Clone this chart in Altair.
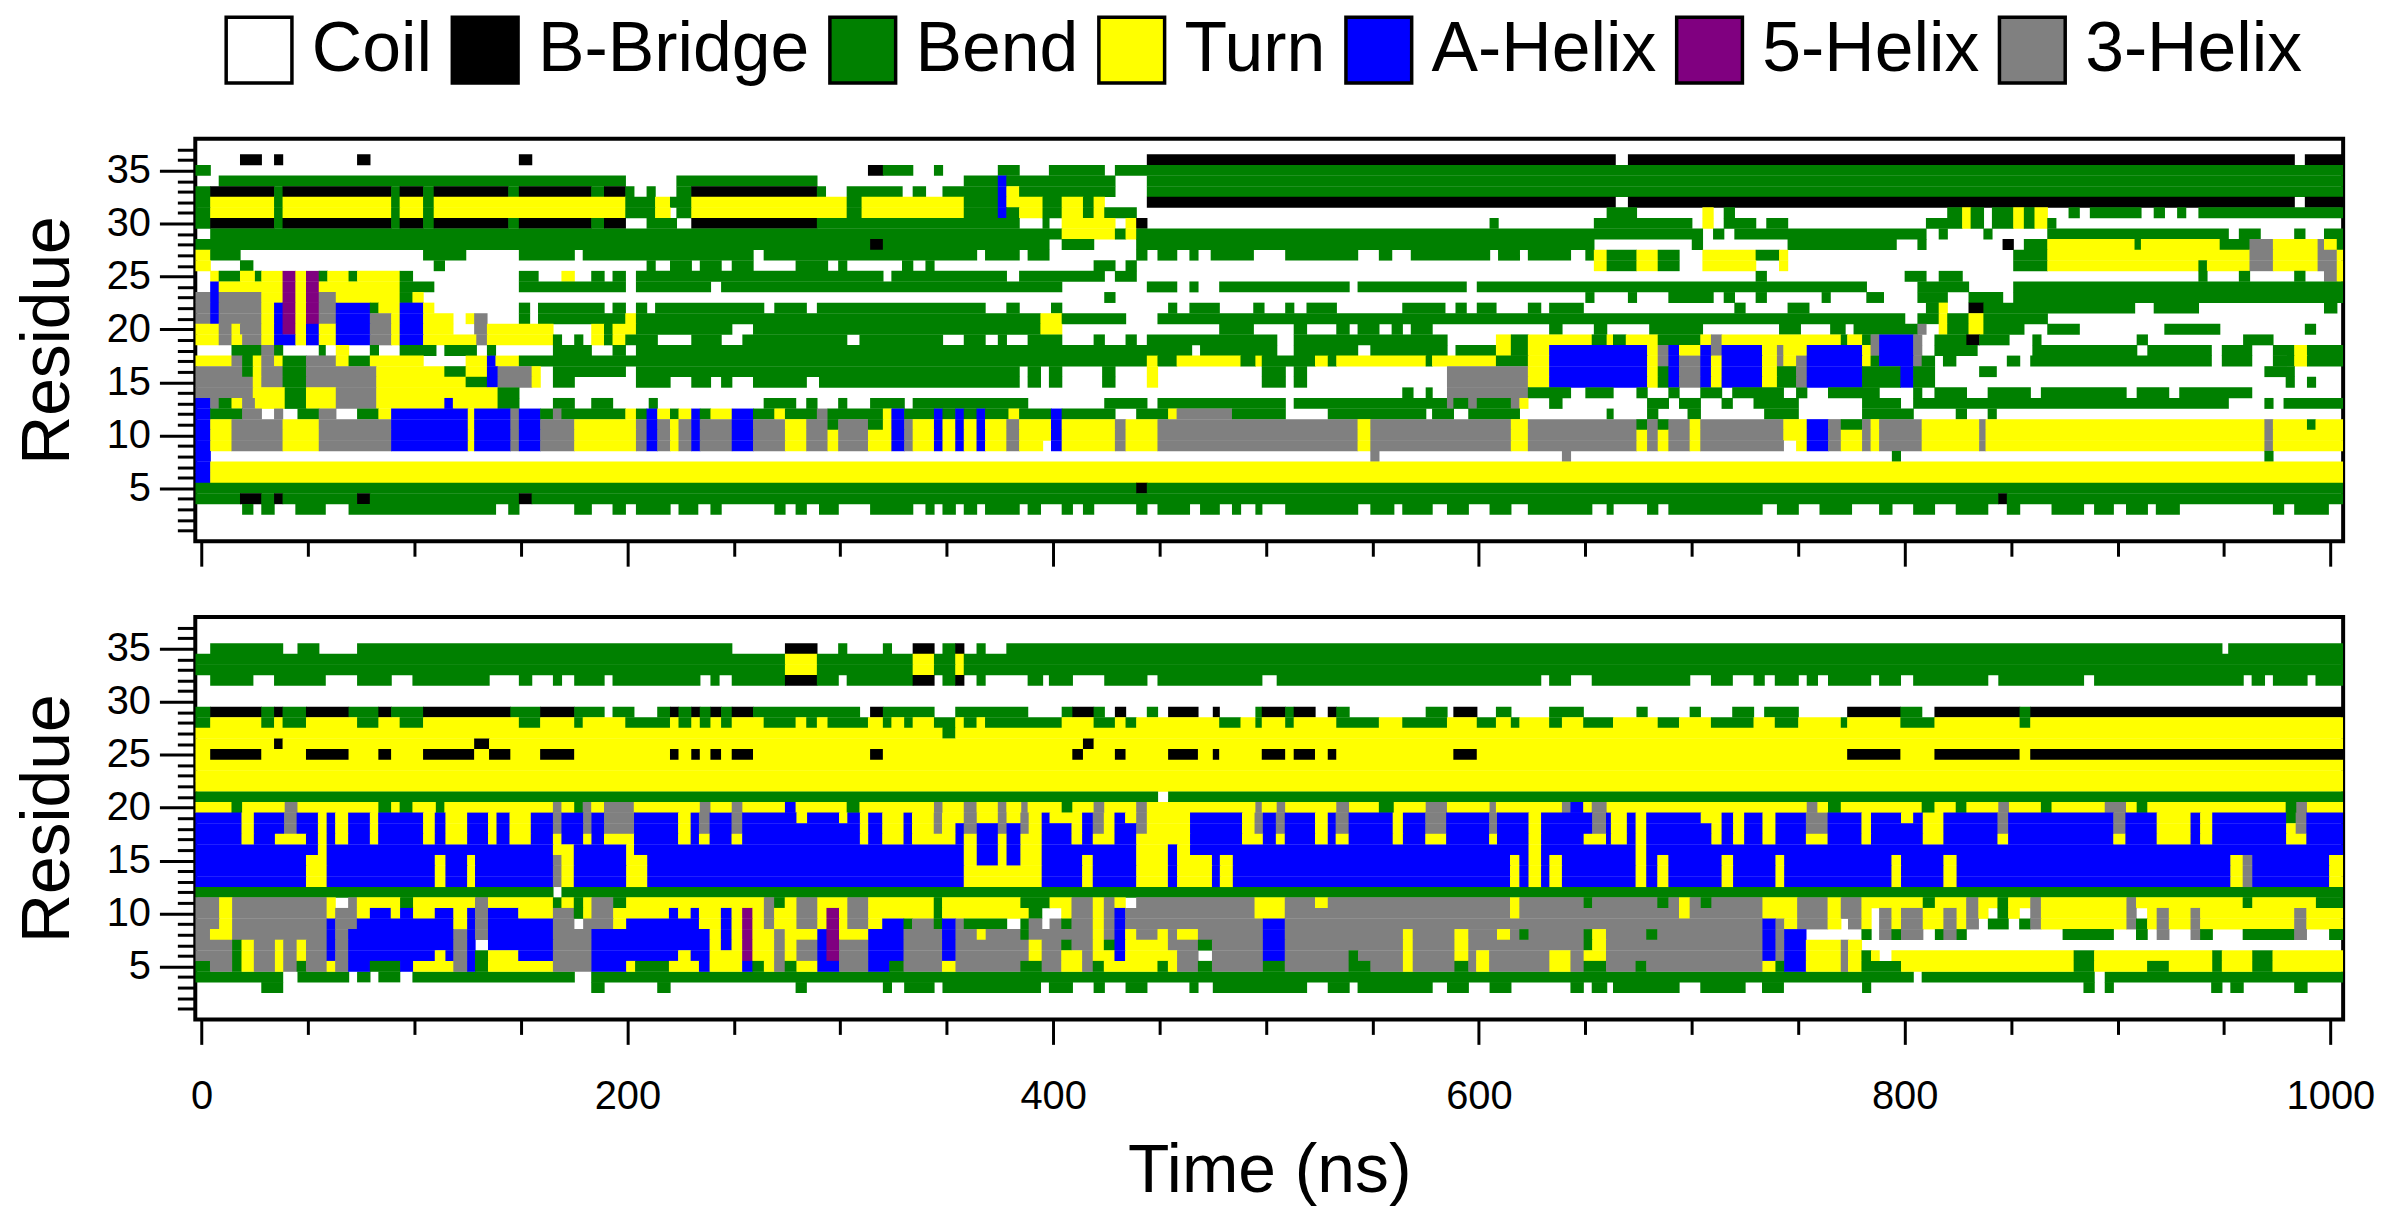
import altair as alt
import pandas as pd

# ---------------- data ----------------
# state codes: C coil, B bridge, S bend, T turn, H alpha helix, I 5-helix, G 3-helix
STATE_NAMES = {"C": "Coil", "B": "B-Bridge", "S": "Bend", "T": "Turn",
               "H": "A-Helix", "I": "5-Helix", "G": "3-Helix"}
legend_order = ["Coil", "B-Bridge", "Bend", "Turn", "A-Helix", "5-Helix", "3-Helix"]
legend_colors = ["#ffffff", "#000000", "#008000", "#ffff00", "#0000ff", "#800080", "#808080"]

T_START, T_END = -3, 1006
x_tick_values = list(range(0, 1001, 50))
y_tick_values = list(range(1, 38))

# each row: "<state><start time ns>" tokens, state lasts until next token
top_rows = {
    36: "C-3 B18 C28 B34 C38 B73 C79 B149 C155 B444 C664 B670 C983 B988",
    35: "S-3 C4 B313 S320 C334 S344 C348 S374 C384 S398 C424 S429",
    34: "C-3 S8 C199 S223 C289 S358 H374 S378 C429 S444",
    33: "S-3 B4 S34 B38 S89 B93 S104 B109 S144 B149 S183 B189 S199 C203 S209 C213 S223 B230 S289 C293 S303 C329 S334 C340 S348 H374 T378 S384 C429 S444",
    32: "S-3 T4 S34 T38 S89 T93 S104 T109 S199 T213 S220 T230 S303 T310 S358 H374 T378 S395 T404 S414 T419 C424 B444 C664 B670 C983 B988",
    31: "S-3 T4 S34 T38 S89 T93 S104 T109 S199 T213 C220 S223 T230 S303 T310 S358 H374 S378 T384 S395 T404 S414 T419 S424 C439 S660 C674 T705 C710 S715 C720 S820 T827 S831 C837 S841 T851 S856 T861 C867 S877 C882 S887 C911 S917 C922 S928 C932 S938",
    30: "S-3 B4 S34 B38 S89 B93 S104 B109 S144 B149 S183 B189 C199 S209 C223 B230 S289 C384 S395 C398 T404 C429 T434 B439 C444 S605 C609 S654 C700 T705 C710 S715 C730 S735 C745 S810 T827 S831 C837 S841 T851 S856 T861 S867 C871",
    29: "C-3 S4 T404 S429 T434 S439 C705 S710 C715 S720 C810 S816 C820 S837 C841 S867 C952 S957 C967 S983 C988 S997",
    28: "S-3 B314 S320 C398 S404 C419 S439 C654 S700 C705 S745 C796 S806 C810 B846 C851 S856 T867 S908 T911 S948 G962 T973 G994 T997 S1003",
    27: "T-3 S4 C18 S104 C124 S149 C175 S179 C259 S264 C364 S368 C384 S388 C398 S439 C444 S449 C458 S464 C468 S474 C494 S509 C543 S553 C559 S568 C605 S609 C619 S623 C643 S650 T654 S660 T674 S684 C694 T705 S730 T741 C745 S851 T867 G962 T973 G994 T1003",
    26: "T-3 C4 S18 C24 S109 C114 S209 C213 S220 C230 S234 C244 S249 C259 S279 C294 S299 C303 S329 C334 S340 C344 S419 C429 S434 C439 T654 S660 T674 S684 C694 T705 C730 T741 C745 S851 T867 S938 T942 G962 T973 G994 T1003",
    25: "C-3 T4 S8 T18 S25 T28 I38 T44 I49 S55 T59 S69 T73 S93 C99 S149 C158 T169 C175 S183 C189 S193 C199 S204 C320 S324 C378 S384 C424 S429 C439 S730 C735 S800 C810 S816 C827 S938 C942 S957 C962 S983 C988 G997 T1003",
    24: "C-3 H4 T8 I38 T44 I49 T55 S93 C109 S149 C199 S204 C239 S244 C404 S444 C458 S464 C468 S478 C539 S543 C594 S599 C782 S806 C830 S851",
    23: "G-3 H4 G8 T28 I38 T44 I49 G55 T63 S93 T99 C104 S424 C429 S650 C654 S670 C674 S689 C710 S715 C720 S730 C735 S761 C765 S782 C790 S806 C820 S830 C846 S851",
    22: "G-3 H4 G8 T28 H34 I38 T44 I49 G55 H63 S79 T83 H93 T104 C109 S149 C154 S158 C189 S193 C199 S204 C209 S213 C264 S269 C284 S289 C368 S378 C384 S399 C404 S454 C458 S464 C478 S494 C499 S509 C513 S519 C533 S564 C584 S589 C594 S599 C608 S623 C629 S633 C649 S720 C725 S745 C755 S810 T816 C820 B830 S837 C908 S917 C938 S997 C1003",
    21: "G-3 H4 G8 T28 H34 I38 T44 I49 G55 H63 G79 T89 H93 T104 C118 T124 G128 C134 S149 C154 S158 T199 S204 T394 S404 C434 S449 C800 S806 T816 S820 T830 S837 C867",
    20: "T-3 G8 T14 G18 T28 H34 I38 T44 H49 T55 H63 G79 T89 H93 T104 C118 G128 T134 C165 T183 S189 T193 S204 C249 S259 T394 C404 S478 C494 S513 C519 S533 C539 S543 C553 S559 C564 S568 C578 S633 C639 S654 C660 S680 C705 S741 C751 S765 C772 S776 G806 C810 T816 S820 T830 S837 C856 S867 C882 S922 C948 S988 C993",
    19: "T-3 G8 T14 G19 T28 H34 T44 H49 T55 H63 G79 T89 H93 T104 G129 T134 S165 C169 S175 C179 T183 S189 T193 S199 C214 S230 C244 S254 C303 S309 C348 S358 C368 S374 C378 S388 C404 S419 C424 S434 C439 S444 C505 S513 C585 T608 S615 T623 S653 T660 S663 T669 S684 T704 G709 T714 S770 T773 S780 G784 H788 G804 C808 S814 B829 S835 C849 S860 C864 S909 C914 S959 C973",
    18: "C-3 S14 G28 S34 C38 S55 C58 T63 C69 S79 C83 S93 C110 S114 C129 S134 C138 S165 C183 S193 C199 S204 C465 S469 C505 S513 C543 S549 C585 S589 T608 S615 T623 H633 T679 G684 H689 T694 H704 G709 H714 T733 G740 T743 H754 T780 G784 H788 G804 C808 S814 C834 S860 C909 S914 C944 S949 C963 S973 T983 S989",
    17: "T-3 G14 S19 T24 G28 T34 S38 G49 T63 S69 T79 C104 T124 H134 T138 S149 T444 S449 T458 S488 T495 S498 T523 S529 T533 S575 T578 S608 T623 H633 T679 G684 H689 G694 H704 T709 H714 T733 G740 T743 G749 H754 T780 S784 H788 G804 S808 C814 S818 C824 S848 C854 S859 C944 S949 C963 S973 T983 S989",
    16: "G-3 S19 T24 G28 S38 G49 T82 S114 T124 H134 G139 T155 C159 S165 C199 S204 C384 S388 C394 S398 C404 S423 C429 T444 C449 S498 C509 S513 C519 G585 T623 H633 T679 S684 H689 G694 H704 T709 H714 T733 S740 G749 H754 S780 H798 S804 C814 S835 C843 S969 C983",
    15: "G-3 T24 G28 S38 G49 T82 S124 H134 G139 T155 C159 S165 C175 S204 C220 S230 C239 S244 C249 S259 C284 S290 C384 S388 C394 S398 C404 S423 C429 T444 C449 S498 C509 S513 C519 G585 T623 H633 T679 S684 H689 G694 H704 T709 H714 T733 S740 G749 H754 S780 H798 S804 C814 S979 C983 S989 C993",
    14: "G-3 T24 S39 T49 G63 T82 S139 C149 S564 C569 S575 C578 G585 S623 C643 S650 C663 S674 C679 S689 C694 S704 C714 S719 C743 S749 C754 S764 C788 S804 C808 S814 C829 S839 C859 S864 C904 S909 C924 S929 C963",
    13: "H-3 G4 S8 T14 G19 T25 S39 T49 G63 T82 H114 T118 S139 C149 S165 C175 S183 C193 S210 C214 S264 C279 S284 C289 S299 C303 S314 C330 S334 C388 S424 C444 S449 C509 S513 G585 S588 G595 S599 G615 T619 C623 S633 C639 S679 C689 S694 C704 S714 C719 S729 C750 S780 C798 S804 C952 S969 C973 S978",
    12: "H-3 S4 G19 C28 G34 C38 S45 G55 C63 S73 T83 H89 T125 H128 G145 H149 S159 G165 S169 T199 S204 H209 T214 S220 T224 H230 S234 T239 H249 S259 T269 S274 G289 S294 T320 H324 S330 H344 S348 H354 S358 H364 S368 T379 S384 H399 S404 C429 S439 T454 G458 S484 C509 S529 C575 S578 C588 S595 C619 S660 C663 S679 C684 S698 C704 S734 C750 S780 C804 S824 C829 S839 C843",
    11: "H-3 T4 G14 T38 G55 H89 T125 H128 G145 H149 G159 T175 G204 H209 G214 T220 G224 H230 G234 H249 G259 T274 G284 S294 G299 S313 T320 H324 G330 T334 H344 T348 H354 T358 H364 T368 G378 T384 H399 T404 G429 T434 G449 T543 G549 T615 G623 S674 G679 S684 G689 T699 G704 T743 H754 G764 S770 G780 T784 G788 T808 G835 T838 G969 T973 S989 T993",
    10: "H-3 T4 G14 T38 G55 H89 T125 H128 G145 H149 G159 T175 G204 H209 G214 T220 G224 H230 G234 H249 G259 T274 G284 T294 G299 T313 H324 G330 T334 H344 T348 H354 T358 H364 T368 G378 T384 H399 T404 G429 T434 G449 T543 G549 T615 G623 T674 G679 T684 G689 T699 G704 T743 H754 G764 T770 G780 T784 G788 T808 G835 T838 G969 T973",
    9: "H-3 T4 G14 T38 G55 H89 T125 H128 G145 H149 G159 T175 G204 H209 G214 T220 G224 H230 G234 H249 G259 T274 G284 T294 G299 T313 H324 G330 T334 H344 T348 H354 T358 H364 T368 G378 T384 C395 H399 T404 G429 T434 G449 T543 G549 T615 G623 T674 G679 T684 G689 T699 G704 C743 T749 H754 G764 T770 G780 T784 G788 T808 G835 T838 G969 T973",
    8: "H-3 C4 G549 C553 G639 C643 S794 C798 S969 C973",
    7: "H-3 T4",
    6: "H-3 T4",
    5: "S-3 B439 S444",
    4: "S-3 B18 S28 B34 S38 B73 S79 B149 S155 B844 S848",
    3: "C-3 S19 C24 S28 C34 S44 C58 S69 C138 S144 C149 S175 C183 S193 C199 S204 C220 S224 C233 S239 C244 S269 C274 S279 C284 S290 C299 S314 C334 S340 C344 S348 C354 S358 C364 S368 C384 S388 C394 S404 C409 S414 C419 S439 C444 S449 C464 S469 C478 S484 C488 S495 C498 S509 C543 S549 C560 S564 C578 S585 C595 S605 C615 S623 C653 S660 C663 S679 C684 S689 C733 S740 C750 S760 C775 S788 C794 S804 C814 S824 C839 S848 C854 S869 C884 S889 C898 S904 C914 S918 C929 S973 C978 S983 C999",
}

bottom_rows = {
    35: "C-3 S4 C38 S45 C55 S73 C249 B274 C289 S299 C303 S320 C324 B334 C344 S348 B354 C358 S364 C368 S378 C949 S952",
    34: "S-3 T274 S289 T334 S344 T354 S358",
    33: "S-3 T274 S289 T334 S344 T354 S358",
    32: "C-3 S4 C24 S34 C58 S73 C89 S99 C135 S149 C155 S165 C169 S175 C189 S193 C234 S239 C243 S249 B274 S289 C299 S303 B334 C344 S348 B354 C358 S364 C368 S388 C395 S398 C409 S424 C444 S449 C498 S505 C629 S633 C643 S653 C699 S709 C719 S729 C734 S739 C750 S754 C759 S764 C784 S788 C798 S804 C839 S844 C884 S889 C959 S963 C969 S973 C989 S993",
    29: "S-3 B4 S28 B34 S38 B49 S69 B83 S89 B104 S145 B159 S175 C189 S193 C203 S214 B220 S224 B230 S234 B239 S244 B249 S259 C309 B314 S320 C344 S354 C388 S404 B409 S419 C424 B429 C434 S444 C449 B454 C468 B475 C478 S495 B498 S509 B513 C523 B529 S533 C539 S575 C585 B588 C599 S608 C615 S633 C649 S674 C679 S699 C704 S719 C729 S734 C750 B773 S798 C808 B814 S854 B859",
    28: "S-3 T4 S28 T34 S38 T49 S73 T83 S93 T104 S149 T159 S175 T179 S199 T220 S224 T230 S234 T239 S244 T249 S264 T279 S284 T289 S294 T313 S320 T324 S330 T334 S344 T354 S358 T364 S368 T404 S419 T429 S434 T439 S478 T488 S495 T498 S509 T513 S533 T553 S564 T585 S599 T608 S615 T619 S633 T639 S649 T663 S684 T694 S709 T729 S739 T750 S770 T773 S798 T814 S854 T859",
    27: "T-3 S348 T354",
    26: "T-3 B34 T38 B128 T135 B414 T419",
    25: "T-3 B4 T28 B49 T69 B83 T89 B104 T128 B135 T145 B159 T175 B220 T224 B230 T234 B239 T244 B249 T259 B314 T320 B409 T414 B429 T434 B454 T468 B475 T478 B498 T509 B513 T523 B529 T533 B588 T599 B773 T798 B814 T854 B859",
    24: "T-3",
    23: "T-3",
    22: "T-3",
    21: "S-3 C449 S454",
    20: "T-3 S14 T19 G39 T45 S83 T89 S93 T99 S110 T114 G165 T169 S175 G179 T183 G189 T203 G234 T239 G249 T254 H274 T279 S303 T309 G344 T348 G358 T364 G374 T378 G385 T388 S404 T409 G419 T424 G439 T444 G495 T498 G505 T509 G533 T539 S553 T560 G575 T585 G605 T608 G639 H643 T649 G653 T660 G754 T759 S764 T770 S808 T814 S824 T829 G844 T849 S864 T869 G894 T904 S909 T914 S979 G984 T989",
    12: "S-3 C165 S169",
    4: "S-3 C38 S45 C69 S73 C79 S83 C93 S99 C175 S183 C804 S808 C889 S894",
    3: "C-3 S28 C38 S183 C189 S214 C220 S279 C284 S320 C324 S330 C344 S348 C394 S398 C409 S419 C424 S434 C444 S464 C468 S475 C519 S529 C539 S543 C578 S585 C595 S605 C615 S643 C649 S653 C660 S663 C694 S704 C725 S733 C743 S780 C784 S884 C889 S894 C898 S944 C949 S953 C959 S983 C989",
}

# bottom panel, helix block: residues 19..13 (one character per residue), by start time
helix_rows = [19, 18, 17, 16, 15, 14, 13]
helix_cols = [
    (-3, "HHHHHHH"), (18.7, "TTTHHHH"), (24.5, "HHHHHHH"), (34.4, "HHTHHHH"), (38.7, "GGTHHHH"),
    (44.6, "HHTHHHH"), (49, "HHHHTTT"), (54.6, "TTTTTTT"), (58.7, "HHHHHHH"), (62.7, "TTTHHHH"),
    (68.8, "HHHHHHH"), (79, "TTTHHHH"), (82.9, "HHHHHHH"), (104, "TTTHHHH"), (109.5, "HHHHTTT"),
    (114.5, "TTTHHHH"), (124.7, "HHHHTTT"), (128.4, "HHHHHHH"), (134.5, "TTTHHHH"), (138.5, "HHHHHHH"),
    (144.6, "TTTHHHH"), (154.6, "HHHHHHH"), (165, "GGTTGGG"), (169, "HHHTTTT"), (174.8, "HHHHHHH"),
    (179.2, "GGTHHHH"), (183.1, "HHHHHHH"), (189, "GGTHHHH"), (199.4, "GGTTTTT"), (203.1, "HHHHTTT"),
    (209.3, "HHHHHHH"), (223.8, "TTTHHHH"), (229.7, "HHHHHHH"), (233.6, "GGTHHHH"), (238.6, "HHHHHHH"),
    (248.9, "GGTHHHH"), (253.9, "HHHHHHH"), (279.4, "THHHHHH"), (284.4, "HHHHHHH"), (299.4, "THHHHHH"),
    (303.3, "HHHHHHH"), (309.2, "TTTHHHH"), (313.1, "HHHHHHH"), (319.7, "TTTHHHH"), (329.7, "HHHHHHH"),
    (333.7, "TTTHHHH"), (343.9, "GGTHHHH"), (347.8, "TTTHHHH"), (354.1, "THHHHHH"), (358, "GGTTTTT"),
    (364.1, "THHHHTT"), (374, "GGTTTTT"), (378.1, "THHHHTT"), (384.6, "GGTTTTT"), (388.5, "TTTTTTT"),
    (394.6, "HHHHHHH"), (398.3, "THHHHHH"), (408.6, "TTTHHHH"), (413.6, "HHHHTTT"), (418.6, "GGTHHHH"),
    (423.8, "TTTHHHH"), (428.8, "HHHHHHH"), (433.8, "THHHHHH"), (439, "GGTTTTT"), (444, "TTTTTTT"),
    (453.9, "TTTHHHH"), (458.2, "TTTTTTT"), (464.3, "HHHHTTT"), (474.6, "HHHHHHH"), (478.3, "HHHHTTT"),
    (484.4, "HHHHHHH"), (488.7, "TTTHHHH"), (494.6, "GGTHHHH"), (498.5, "HHHHHHH"), (504.6, "GGTHHHH"),
    (508.8, "HHHHHHH"), (523, "TTTHHHH"), (529, "HHHHHHH"), (532.7, "GGTHHHH"), (538.8, "HHHHHHH"),
    (559.5, "TTTHHHH"), (564.3, "HHHHHHH"), (574.8, "GGTHHHH"), (584.6, "HHHHHHH"), (604.8, "GGTHHHH"),
    (608.5, "HHHHHHH"), (614.6, "HHHHTTT"), (619, "HHHHHHH"), (623.3, "TTTTTTT"), (629.2, "HHHHHHH"),
    (633.1, "HHHHTTT"), (639, "HHHHHHH"), (649.2, "HHTHHHH"), (653.2, "GGTHHHH"), (659.7, "HHHHHHH"),
    (662, "TTTHHHH"), (669.5, "HHHHHHH"), (673.6, "TTTTTTT"), (678.6, "HHHHHHH"), (683.8, "HHHHTTT"),
    (689, "HHHHHHH"), (704.2, "THHHHHH"), (709.2, "TTTHHHH"), (714, "HHHHTTT"), (719.4, "TTTHHHH"),
    (724.6, "HHHHHHH"), (733.2, "TTTHHHH"), (739.3, "HHHHTTT"), (743.4, "HHHHHHH"), (753.6, "GGTHHHH"),
    (763.8, "HHHHHHH"), (779.7, "TTTHHHH"), (784.2, "HHHHHHH"), (793.8, "HHHHTTT"), (798.3, "THHHHHH"),
    (804, "HHHHHHH"), (808.5, "TTTHHHH"), (818.2, "HHHHTTT"), (824.4, "HHHHHHH"), (843.6, "GGTHHHH"),
    (848.6, "HHHHHHH"), (898, "GGTHHHH"), (903.7, "HHHHHHH"), (918.4, "TTTHHHH"), (934.3, "HHHHHHH"),
    (938.8, "TTTHHHH"), (944.5, "HHHHHHH"), (953, "HHHHTTT"), (958.8, "HHHHGGG"), (963.3, "HHHHHHH"),
    (979.2, "STTHHHH"), (983.7, "GGTHHHH"), (988.7, "HHHHHHH"), (999.4, "HHHHTTT"),
]

# bottom panel, lower block: residues 11..5
lower_rows = [11, 10, 9, 8, 7, 6, 5]
lower_cols = [
    (-3, "GGGGGGS"), (3.9, "GGGTGGG"), (8.2, "TTTTGGG"), (14.3, "GGGGSSS"), (18.7, "GGGGTTT"),
    (24.5, "GGGGGGG"), (34.4, "GGGGTTT"), (38.3, "GGGGGGG"), (44.6, "GGGGTTS"), (49, "GGGGGGG"),
    (58.7, "TTHHHHT"), (62.7, "CGGGGGG"), (68.8, "GGGHHHH"), (72.9, "TTHHHHH"), (79, "THHHHHS"),
    (88.8, "TTHHHHS"), (93.2, "SHHHHHH"), (99.3, "TTHHHHT"), (109.5, "THHHHTT"), (114.5, "THHHHHT"),
    (118.2, "TTTGGGG"), (124.7, "THHHHHH"), (128.4, "GGGGCSS"), (134.5, "THHHHTT"), (148.7, "TTHHHHT"),
    (165, "SGGGGGG"), (169, "TGGGGGG"), (174.8, "SSCGGGG"), (179.2, "TTGGGGG"), (183.1, "GGGHHHH"),
    (193.3, "STTHHHH"), (199.4, "TTHHHHT"), (203.6, "TTHHHHS"), (219.5, "THHHHHT"), (223.8, "TTHHHTT"),
    (229.7, "THHHHHT"), (233.6, "TTTHHHH"), (238.6, "TTTTTTT"), (243.9, "THHHHTT"), (248.9, "TTTTTTT"),
    (253.9, "TIIIIIH"), (258.7, "TTTTTTS"), (264.1, "GGGTTTT"), (268.9, "STTGGGG"), (273.9, "TTTTTTS"),
    (279.4, "GGGTGGT"), (289.2, "TTTHHHH"), (293.5, "TIIIIIH"), (299.4, "TTTTGGG"), (303.3, "GGGTGGG"),
    (313.1, "TTTHHHH"), (319.7, "TTHHHHH"), (323, "TTHHHHS"), (329.7, "TTSGGGG"), (333.7, "TTGGGGG"),
    (343.9, "SSSGGGG"), (347.8, "TTHHHHT"), (354.1, "TTGGGGG"), (358, "TTSGGGG"), (364.1, "TTSTGGG"),
    (368.3, "TTSGGGG"), (378.1, "TTCGGGG"), (384.6, "STSSGGS"), (388.5, "SSGGTTS"), (394.6, "SCCGGGG"),
    (398.3, "TCGGGGG"), (403.8, "TTSGSTT"), (408.6, "GGGGGTT"), (413.6, "GGGGGGG"), (418.6, "TTTTTTS"),
    (423.8, "GGGGSTT"), (428.8, "THHHHHT"), (433.8, "CGGTTTT"), (439, "GGGGTTT"), (449, "GGGTTTS"),
    (453.9, "GGGGGTT"), (458.2, "GGGTGGG"), (468, "GGGGSCS"), (474.6, "GGGGGGG"), (494.6, "TTGGGGG"),
    (498.5, "TTHHHHS"), (508.8, "GGGGGGG"), (523, "TGGGGGG"), (529, "GGGGGGG"), (538.8, "GGGGGSS"),
    (543.2, "GGGGGGS"), (549, "GGGGGGG"), (564.3, "GGGTTTT"), (568.9, "GGGGGGG"), (588.5, "GGGTTTS"),
    (595, "GGGGGGG"), (598.7, "GGGGGTT"), (604.8, "GGGGGGG"), (608.5, "GGGTGGG"), (614.6, "TTGGGGG"),
    (619, "GGGSGGG"), (623.3, "GGGGGGG"), (633.1, "GGGGGTT"), (643, "GGGGGGG"), (649.2, "SGGSSTS"),
    (653.2, "GGGTTTS"), (659.7, "GGGGGGG"), (673.6, "GGGGGGS"), (678.6, "GGGSGGG"), (683.8, "SGGGGGG"),
    (689, "GGGGGGG"), (694, "TTGGGGG"), (699, "GGGGGGG"), (704.2, "SGGGGGG"), (709.2, "GGGGGGG"),
    (733.2, "TTHHHHT"), (739.3, "TTGGGGS"), (743.4, "TTTHHHH"), (749.5, "GGGHHHH"), (753.6, "GGGCTTT"),
    (763.8, "TTTCTTT"), (770, "GGCCGGG"), (773.4, "GGGCTTT"), (779.7, "TTTSCSS"), (784.2, "TCCCCTS"),
    (788, "TGGGCCS"), (793.8, "TTTSCTS"), (798.3, "TGGGCTT"), (808.5, "STTCCTT"), (814.2, "TTTSCTT"),
    (818.2, "TGGGCTT"), (824.4, "TTTSCTT"), (828.9, "GGGCCTT"), (834.6, "TTCCCTT"), (839.1, "TCSCCTT"),
    (843.6, "SSSCCTT"), (848.6, "TTCCCTT"), (853.8, "TCSCCTT"), (859, "GGGCCTT"), (864, "TTTCCTT"),
    (874.2, "TTTSCTT"), (879.4, "TTTSCSS"), (889, "TTTSCTT"), (898, "TTTCCTT"), (904.2, "GGGCCTT"),
    (908.7, "TCSSCTT"), (913.9, "TTTCCTS"), (918.4, "TGGGCTS"), (924.1, "TTTCCTT"), (934.3, "TGGGCTT"),
    (938.8, "TTTSCTT"), (944.5, "TTTCCSS"), (949, "TTTCCTT"), (958.8, "STTSCTT"), (963.3, "TTTSCSS"),
    (972.8, "TTTSCTT"), (983, "TGGGCTT"), (988.7, "TTTCCTT"), (993.2, "STTCCTT"), (999.4, "STTSCTT"),
]

# ---------------- build records ----------------
def add_segments(recs, panel, res, segs):
    merged = []
    for st, a in segs:
        if merged and merged[-1][0] == st:
            continue
        merged.append([st, a])
    for i, (st, a) in enumerate(merged):
        b = merged[i + 1][1] if i + 1 < len(merged) else T_END
        if st == "C" or b <= a:
            continue
        recs.append({"panel": panel, "res": res,
                     "t0": a, "t1": min(b + 0.3, T_END),
                     "y0": res - 0.5, "y1": res + 0.53,
                     "state": STATE_NAMES[st]})

def rows_to_records(rows, panel, recs):
    for res, s in rows.items():
        segs = [(tok[0], float(tok[1:])) for tok in s.split()]
        add_segments(recs, panel, res, segs)

def cols_to_records(cols, rows, panel, recs):
    for k, res in enumerate(rows):
        segs = [(code[k], float(t)) for t, code in cols]
        add_segments(recs, panel, res, segs)

records = []
rows_to_records(top_rows, "top", records)
rows_to_records(bottom_rows, "bottom", records)
cols_to_records(helix_cols, helix_rows, "bottom", records)
cols_to_records(lower_cols, lower_rows, "bottom", records)
df = pd.DataFrame(records)

FONT = "Liberation Sans"

color_scale = alt.Scale(domain=legend_order, range=legend_colors)
x_scale = alt.Scale(domain=[T_START, T_END], nice=False, zero=False)
y_scale = alt.Scale(domain=[0, 38], nice=False, zero=False)

y_axis = alt.Axis(
    values=y_tick_values,
    labelExpr="datum.value % 5 === 0 ? datum.label : ''",
    tickSize={"condition": {"test": "datum.value % 5 === 0", "value": 36}, "value": 18},
    tickWidth=3, tickColor="black", domain=False, grid=False,
    labelFont=FONT, labelFontSize=40, labelColor="black", labelPadding=9,
    title="Residue", titleFont=FONT, titleFontSize=68, titleFontWeight="normal",
    titleColor="black", titlePadding=24,
)

def x_axis(show_labels):
    kw = dict(
        values=x_tick_values,
        tickSize={"condition": {"test": "datum.value % 200 === 0", "value": 25}, "value": 15},
        tickWidth=3, tickColor="black", domain=False, grid=False,
    )
    if show_labels:
        kw.update(
            format="d",
            labelExpr="datum.value % 200 === 0 ? datum.label : ''",
            labelFont=FONT, labelFontSize=40, labelColor="black", labelPadding=32,
            title="Time (ns)", titleFont=FONT, titleFontSize=68, titleFontWeight="normal",
            titleColor="black", titlePadding=22,
        )
    else:
        kw.update(labels=False, title=None)
    return alt.Axis(**kw)

legend = alt.Legend(
    orient="none", legendX=29, legendY=-124, direction="horizontal", title=None,
    symbolType="square", symbolSize=4356, symbolStrokeColor="black", symbolStrokeWidth=3.5,
    symbolOpacity=1, labelFont=FONT, labelFontSize=70, labelColor="black",
    labelOffset=18, columnPadding=13, labelLimit=500, padding=0,
)

def panel(name, show_labels, with_legend):
    return alt.Chart(df[df.panel == name]).mark_rect(clip=True).encode(
        x=alt.X("t0:Q", scale=x_scale, axis=x_axis(show_labels)),
        x2="t1:Q",
        y=alt.Y("y0:Q", scale=y_scale, axis=y_axis),
        y2="y1:Q",
        color=alt.Color("state:N", scale=color_scale, legend=legend if with_legend else None),
    ).properties(width=2156, height=404)

top = panel("top", False, True)
bottom = panel("bottom", True, False)

chart = alt.vconcat(top, bottom, spacing=76, bounds="flush").properties(
    padding={"left": 4, "top": 5, "right": 5, "bottom": 5}
).configure(
    background="white",
    view=alt.ViewConfig(stroke="black", strokeWidth=4, strokeOpacity=1),
    style={"cell": {"stroke": "black", "strokeWidth": 4, "strokeOpacity": 1}},
)

chart.save("out.html", embed_options={"renderer": "svg", "actions": False})
